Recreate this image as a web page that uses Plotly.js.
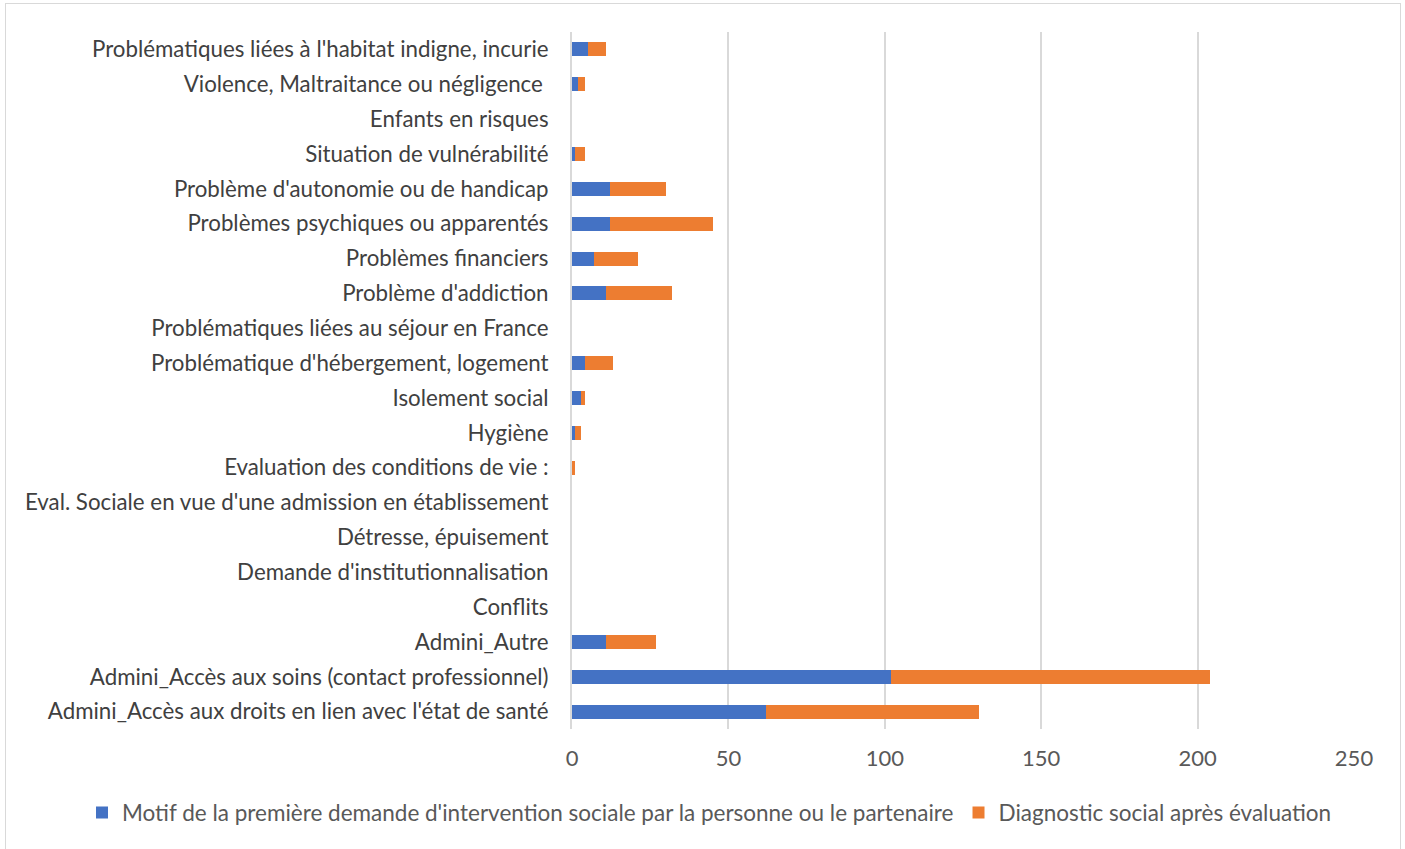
<!DOCTYPE html>
<html>
<head>
<meta charset="utf-8">
<script src="https://cdn.plot.ly/plotly-3.0.1.min.js"></script>
<style>
html,body{margin:0;padding:0;background:#fff;}
#chart{width:1405px;height:849px;position:absolute;left:0;top:0;}
#frame{position:absolute;left:5px;top:3px;width:1394px;height:860px;border:1px solid #d9d9d9;pointer-events:none;}
</style>
</head>
<body>
<div id="chart"></div>
<div id="frame"></div>
<script>
const categories = [
  "Problématiques liées à l'habitat indigne, incurie",
  "Violence, Maltraitance ou négligence ",
  "Enfants en risques",
  "Situation de vulnérabilité",
  "Problème d'autonomie ou de handicap",
  "Problèmes psychiques ou apparentés",
  "Problèmes financiers",
  "Problème d'addiction",
  "Problématiques liées au séjour en France",
  "Problématique d'hébergement, logement",
  "Isolement social",
  "Hygiène",
  "Evaluation des conditions de vie :",
  "Eval. Sociale en vue d'une admission en établissement",
  "Détresse, épuisement",
  "Demande d'institutionnalisation",
  "Conflits",
  "Admini_Autre",
  "Admini_Accès aux soins (contact professionnel)",
  "Admini_Accès aux droits en lien avec l'état de santé"
];
const motifPremiereDemande = [5, 2, 0, 1, 12, 12, 7, 11, 0, 4, 3, 1, 0, 0, 0, 0, 0, 11, 102, 62];
const diagnosticApresEvaluation = [6, 2, 0, 3, 18, 33, 14, 21, 0, 9, 1, 2, 1, 0, 0, 0, 0, 16, 102, 68];
const seriesNames = [
  "Motif de la première demande d'intervention sociale par la personne ou le partenaire",
  "Diagnostic social après évaluation"
];
const xTicks = [0, 50, 100, 150, 200, 250];

const fontFam = "Lato, 'Open Sans', sans-serif";
const traces = [
  {type:'bar', orientation:'h', name:seriesNames[0], y:categories, x:motifPremiereDemande,
   marker:{color:'#4472c4'}, width:0.4, hoverinfo:'x+y'},
  {type:'bar', orientation:'h', name:seriesNames[1], y:categories, x:diagnosticApresEvaluation,
   marker:{color:'#ed7d31'}, width:0.4, hoverinfo:'x+y'}
];
const layout = {
  width:1405, height:849,
  margin:{l:572, r:51, t:32, b:120, autoexpand:false},
  barmode:'stack',
  paper_bgcolor:'#fff', plot_bgcolor:'#fff',
  font:{family:fontFam, size:22, color:'#404040'},
  xaxis:{range:[0,250], tickvals:xTicks, ticktext:xTicks.map(String), showgrid:true, gridcolor:'#d9d9d9', gridwidth:2,
         zeroline:false, showline:false, ticks:'', ticklabelstandoff:14, tickfont:{size:22, color:'#595959'}, fixedrange:true},
  yaxis:{autorange:'reversed', type:'category', showgrid:false, zeroline:false, showline:true, linecolor:'#d9d9d9', linewidth:2,
         ticks:'', ticklabelstandoff:17, tickfont:{size:22.3, color:'#404040'}, fixedrange:true},
  legend:{orientation:'h', x:(82-572)/782, xref:'paper', xanchor:'left', y:-0.1205, yref:'paper', yanchor:'middle',
          font:{size:22.5, color:'#595959'}, traceorder:'normal', itemwidth:30},
  showlegend:true
};
Plotly.newPlot('chart', traces, layout, {displayModeBar:false, staticPlot:true});
</script>
</body>
</html>
